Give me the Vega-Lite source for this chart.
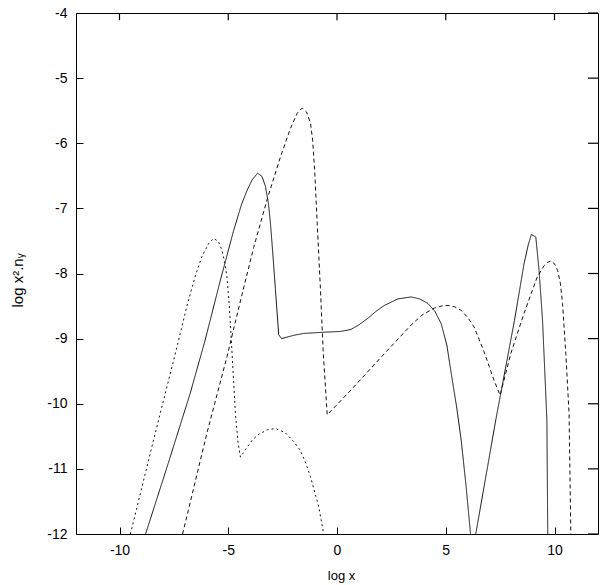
{
  "$schema": "https://vega.github.io/schema/vega-lite/v6.json",
  "width": 522,
  "height": 521,
  "autosize": "none",
  "padding": {"left": 76, "top": 13, "right": 2, "bottom": 51},
  "background": "white",
  "config": {
    "font": "Liberation Sans",
    "view": {"stroke": "black", "strokeWidth": 1},
    "axis": {
      "grid": false,
      "domain": false,
      "tickColor": "black",
      "tickWidth": 1,
      "labelFontSize": 14,
      "labelColor": "black",
      "labelFont": "Liberation Sans",
      "labelFlush": false,
      "labelOverlap": false,
      "titleFontSize": 13,
      "titleFontWeight": "normal",
      "titleColor": "black",
      "titleFont": "Liberation Sans"
    }
  },
  "datasets": {
    "curves": [
      {"s": "a", "x": -8.8, "y": -12},
      {"s": "a", "x": -7.67, "y": -10.82},
      {"s": "a", "x": -6.75, "y": -9.84},
      {"s": "a", "x": -6.06, "y": -9.02},
      {"s": "a", "x": -5.36, "y": -8.1},
      {"s": "a", "x": -4.76, "y": -7.35},
      {"s": "a", "x": -4.4, "y": -6.95},
      {"s": "a", "x": -4.13, "y": -6.72},
      {"s": "a", "x": -3.9, "y": -6.56},
      {"s": "a", "x": -3.65, "y": -6.46},
      {"s": "a", "x": -3.45, "y": -6.51},
      {"s": "a", "x": -3.29, "y": -6.66},
      {"s": "a", "x": -3.15, "y": -6.93},
      {"s": "a", "x": -3.06, "y": -7.23},
      {"s": "a", "x": -2.95, "y": -7.7},
      {"s": "a", "x": -2.83, "y": -8.25},
      {"s": "a", "x": -2.68, "y": -8.94},
      {"s": "a", "x": -2.55, "y": -9.0},
      {"s": "a", "x": -2.0, "y": -8.95},
      {"s": "a", "x": -1.53, "y": -8.92},
      {"s": "a", "x": -0.5, "y": -8.9},
      {"s": "a", "x": 0.16, "y": -8.89},
      {"s": "a", "x": 0.64, "y": -8.86},
      {"s": "a", "x": 1.0, "y": -8.79},
      {"s": "a", "x": 1.41, "y": -8.69},
      {"s": "a", "x": 1.8, "y": -8.58},
      {"s": "a", "x": 2.18, "y": -8.49},
      {"s": "a", "x": 2.8, "y": -8.39},
      {"s": "a", "x": 3.41, "y": -8.36},
      {"s": "a", "x": 3.8, "y": -8.39},
      {"s": "a", "x": 4.18, "y": -8.46},
      {"s": "a", "x": 4.5, "y": -8.58},
      {"s": "a", "x": 4.79, "y": -8.77},
      {"s": "a", "x": 5.05, "y": -9.1},
      {"s": "a", "x": 5.25, "y": -9.53},
      {"s": "a", "x": 5.5, "y": -10.05},
      {"s": "a", "x": 5.71, "y": -10.56},
      {"s": "a", "x": 5.93, "y": -11.25},
      {"s": "a", "x": 6.14, "y": -12},
      {"s": "a", "x": 6.26, "y": -12.45},
      {"s": "a", "x": 6.38, "y": -12},
      {"s": "a", "x": 7.3, "y": -10.25},
      {"s": "a", "x": 7.53, "y": -9.84},
      {"s": "a", "x": 8.16, "y": -8.72},
      {"s": "a", "x": 8.6, "y": -7.85},
      {"s": "a", "x": 8.8, "y": -7.55},
      {"s": "a", "x": 8.94, "y": -7.4},
      {"s": "a", "x": 9.14, "y": -7.44},
      {"s": "a", "x": 9.29, "y": -7.95},
      {"s": "a", "x": 9.45, "y": -8.72},
      {"s": "a", "x": 9.55, "y": -9.48},
      {"s": "a", "x": 9.65, "y": -10.25},
      {"s": "a", "x": 9.69, "y": -12},
      {"s": "a", "x": 9.7, "y": -12.5},
      {"s": "b", "x": -7.1, "y": -12},
      {"s": "b", "x": -5.98, "y": -10.45},
      {"s": "b", "x": -5.06, "y": -9.28},
      {"s": "b", "x": -4.44, "y": -8.42},
      {"s": "b", "x": -3.83, "y": -7.6},
      {"s": "b", "x": -3.22, "y": -6.87},
      {"s": "b", "x": -2.6, "y": -6.21},
      {"s": "b", "x": -2.14, "y": -5.77},
      {"s": "b", "x": -1.83, "y": -5.54},
      {"s": "b", "x": -1.6, "y": -5.46},
      {"s": "b", "x": -1.4, "y": -5.52},
      {"s": "b", "x": -1.22, "y": -5.69},
      {"s": "b", "x": -1.12, "y": -5.95},
      {"s": "b", "x": -1.03, "y": -6.4},
      {"s": "b", "x": -0.91, "y": -7.23},
      {"s": "b", "x": -0.76, "y": -8.25},
      {"s": "b", "x": -0.64, "y": -9.17},
      {"s": "b", "x": -0.45, "y": -10.17},
      {"s": "b", "x": 0.64, "y": -9.79},
      {"s": "b", "x": 2.18, "y": -9.23},
      {"s": "b", "x": 3.41, "y": -8.79},
      {"s": "b", "x": 3.9, "y": -8.64},
      {"s": "b", "x": 4.48, "y": -8.53},
      {"s": "b", "x": 4.8, "y": -8.5},
      {"s": "b", "x": 5.1, "y": -8.49},
      {"s": "b", "x": 5.4, "y": -8.51},
      {"s": "b", "x": 5.69, "y": -8.56},
      {"s": "b", "x": 6.0, "y": -8.67},
      {"s": "b", "x": 6.3, "y": -8.82},
      {"s": "b", "x": 6.76, "y": -9.2},
      {"s": "b", "x": 7.0, "y": -9.43},
      {"s": "b", "x": 7.22, "y": -9.64},
      {"s": "b", "x": 7.5, "y": -9.87},
      {"s": "b", "x": 7.99, "y": -9.23},
      {"s": "b", "x": 8.6, "y": -8.61},
      {"s": "b", "x": 9.21, "y": -8.05},
      {"s": "b", "x": 9.52, "y": -7.88},
      {"s": "b", "x": 9.67, "y": -7.83},
      {"s": "b", "x": 9.83, "y": -7.81},
      {"s": "b", "x": 10.0, "y": -7.85},
      {"s": "b", "x": 10.14, "y": -7.95},
      {"s": "b", "x": 10.27, "y": -8.15},
      {"s": "b", "x": 10.37, "y": -8.46},
      {"s": "b", "x": 10.52, "y": -9.23},
      {"s": "b", "x": 10.67, "y": -10.15},
      {"s": "b", "x": 10.75, "y": -12},
      {"s": "b", "x": 10.76, "y": -12.5},
      {"s": "c", "x": -9.5, "y": -12},
      {"s": "c", "x": -8.43, "y": -10.55},
      {"s": "c", "x": -7.36, "y": -9.13},
      {"s": "c", "x": -6.9, "y": -8.5},
      {"s": "c", "x": -6.5, "y": -8.02},
      {"s": "c", "x": -6.2, "y": -7.73},
      {"s": "c", "x": -5.9, "y": -7.54},
      {"s": "c", "x": -5.67, "y": -7.46},
      {"s": "c", "x": -5.45, "y": -7.51},
      {"s": "c", "x": -5.29, "y": -7.64},
      {"s": "c", "x": -5.15, "y": -7.85},
      {"s": "c", "x": -5.06, "y": -8.05},
      {"s": "c", "x": -4.95, "y": -8.5},
      {"s": "c", "x": -4.88, "y": -8.9},
      {"s": "c", "x": -4.78, "y": -9.5},
      {"s": "c", "x": -4.67, "y": -10.15},
      {"s": "c", "x": -4.55, "y": -10.6},
      {"s": "c", "x": -4.44, "y": -10.82},
      {"s": "c", "x": -4.2, "y": -10.7},
      {"s": "c", "x": -3.9, "y": -10.56},
      {"s": "c", "x": -3.6, "y": -10.47},
      {"s": "c", "x": -3.2, "y": -10.4},
      {"s": "c", "x": -2.83, "y": -10.38},
      {"s": "c", "x": -2.4, "y": -10.44},
      {"s": "c", "x": -1.99, "y": -10.58},
      {"s": "c", "x": -1.68, "y": -10.72},
      {"s": "c", "x": -1.45, "y": -10.9},
      {"s": "c", "x": -1.22, "y": -11.12},
      {"s": "c", "x": -0.84, "y": -11.58},
      {"s": "c", "x": -0.61, "y": -12},
      {"s": "c", "x": -0.58, "y": -12.5}
    ],
    "xticks": [{"t": -10}, {"t": -5}, {"t": 0}, {"t": 5}, {"t": 10}],
    "yticks": [{"t": -12}, {"t": -11}, {"t": -10}, {"t": -9}, {"t": -8}, {"t": -7}, {"t": -6}, {"t": -5}, {"t": -4}]
  },
  "encoding": {
    "x": {
      "type": "quantitative",
      "scale": {"domain": [-12, 12], "nice": false, "zero": false},
      "axis": {
        "orient": "bottom", "values": [-10, -5, 0, 5, 10],
        "tickSize": -7, "labelPadding": 16, "labelBaseline": "top",
        "labelExpr": "'' + datum.value",
        "title": "log x", "titleX": 265, "titleY": 45,
        "titleAlign": "center", "titleBaseline": "alphabetic", "titleAnchor": null
      }
    },
    "y": {
      "type": "quantitative",
      "scale": {"domain": [-12, -4], "nice": false, "zero": false},
      "axis": {
        "orient": "left", "values": [-12, -11, -10, -9, -8, -7, -6, -5, -4],
        "tickSize": -7, "labelPadding": 16,
        "labelExpr": "'' + datum.value",
        "title": "log x².nᵧ", "titleX": -59, "titleY": 267, "titleAngle": -90,
        "titleFontSize": 15,
        "titleAlign": "center", "titleBaseline": "middle", "titleAnchor": null
      }
    }
  },
  "layer": [
    {
      "data": {"name": "curves"},
      "mark": {"type": "line", "clip": true, "strokeWidth": 1, "color": "#111111"},
      "encoding": {
        "x": {"field": "x", "type": "quantitative"},
        "y": {"field": "y", "type": "quantitative"},
        "detail": {"field": "s", "type": "nominal"},
        "strokeDash": {
          "field": "s", "type": "nominal",
          "scale": {"domain": ["a", "b", "c"], "range": [[1, 0], [4, 3], [2, 3]]},
          "legend": null
        }
      }
    },
    {
      "data": {"name": "xticks"},
      "mark": {"type": "rule", "color": "#000000", "strokeWidth": 1.2},
      "encoding": {
        "x": {"field": "t", "type": "quantitative"},
        "y": {"datum": -4},
        "y2": {"datum": -4.11}
      }
    },
    {
      "data": {"name": "yticks"},
      "mark": {"type": "rule", "color": "#000000", "strokeWidth": 1.2},
      "encoding": {
        "y": {"field": "t", "type": "quantitative"},
        "x": {"datum": 12},
        "x2": {"datum": 11.54}
      }
    }
  ]
}
